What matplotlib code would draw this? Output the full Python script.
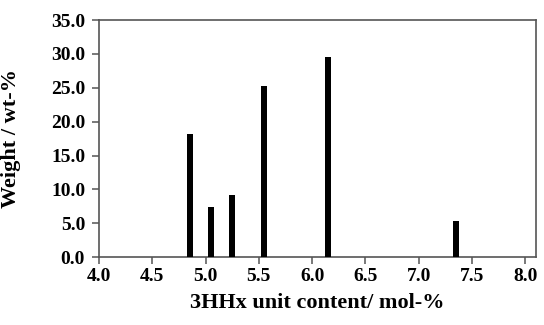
import matplotlib
matplotlib.use("Agg")
import matplotlib.pyplot as plt

plt.rcParams['font.family'] = ['Liberation Serif', 'DejaVu Serif']

hhx_content = [4.85, 5.05, 5.25, 5.55, 6.15, 7.35]
weight = [18.2, 7.4, 9.2, 25.3, 29.5, 5.3]
x_ticks = [4.0, 4.5, 5.0, 5.5, 6.0, 6.5, 7.0, 7.5, 8.0]
y_ticks = [0, 5, 10, 15, 20, 25, 30, 35]

fig = plt.figure(figsize=(5.44, 3.25), dpi=100)
ax = fig.add_axes([0.182, 0.209, 0.803, 0.729])
ax.bar(hhx_content, weight, width=0.055, color='black', zorder=3)
ax.set_xlim(4.0, 8.1)
ax.set_ylim(0, 35)
ax.set_xticks(x_ticks)
ax.set_xticklabels([f"{v:.1f}" for v in x_ticks])
ax.set_yticks(y_ticks)
ax.set_yticklabels([f"{v:.1f}" for v in y_ticks])
for s in ax.spines.values():
    s.set_color('#555555')
    s.set_linewidth(1.2)
ax.tick_params(direction='out', length=5, width=1.1, color='#555555',
               labelsize=14)
ax.tick_params(axis='x', pad=3)
ax.tick_params(axis='y', pad=5)
for lab in ax.get_xticklabels() + ax.get_yticklabels():
    lab.set_fontweight('bold')
ax.set_xlabel("3HHx unit content/ mol-%", fontsize=16, fontweight='bold')
ax.set_ylabel("Weight / wt-%", fontsize=16, fontweight='bold')
ax.xaxis.set_label_coords(0.5, -0.15)
ax.yaxis.set_label_coords(-0.178, 0.5)
fig.savefig("out.png", dpi=100)
